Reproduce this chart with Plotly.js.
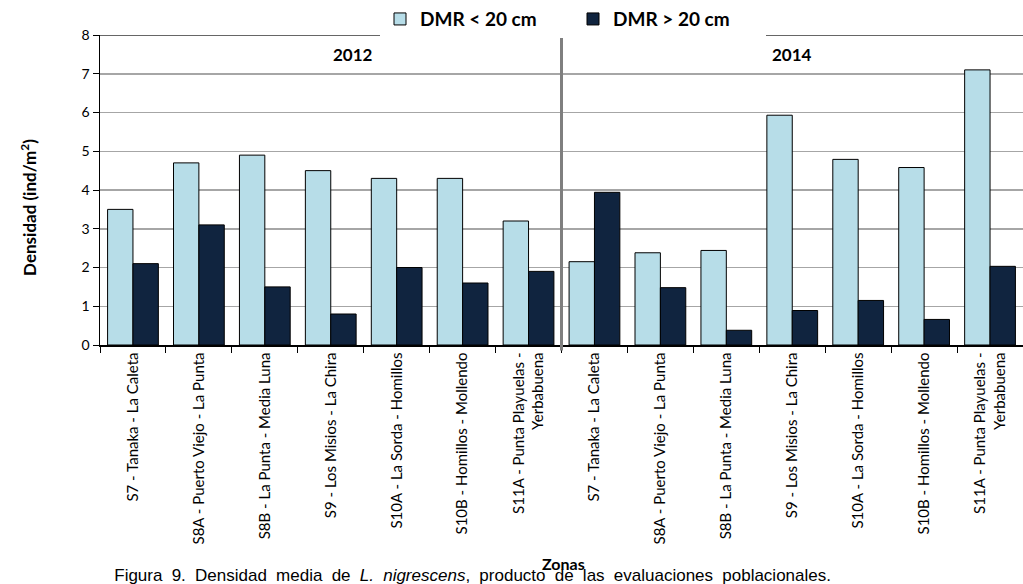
<!DOCTYPE html>
<html>
<head>
<meta charset="utf-8">
<script src="https://cdn.plot.ly/plotly-3.0.1.min.js"></script>
<style>
html,body{margin:0;padding:0;background:#fff;}
#chart{width:1023px;height:584px;}
g.annotation[data-index="4"] text{word-spacing:4.5px;}
</style>
</head>
<body>
<div id="chart"></div>
<script>
const zones = ["S7 - Tanaka - La Caleta","S8A - Puerto Viejo - La Punta","S8B - La Punta - Media Luna","S9 - Los Misios - La Chira","S10A - La Sorda - Homillos","S10B - Homillos - Mollendo","S11A - Punta Playuelas -<br>Yerbabuena"];
const years = ["2012","2014"];
const small2012 = [3.5, 4.7, 4.9, 4.5, 4.3, 4.3, 3.2];
const large2012 = [2.1, 3.1, 1.5, 0.8, 2.0, 1.6, 1.9];
const small2014 = [2.15, 2.38, 2.44, 5.93, 4.79, 4.58, 7.1];
const large2014 = [3.94, 1.48, 0.38, 0.89, 1.15, 0.66, 2.03];
const seriesNames = ["DMR < 20 cm","DMR > 20 cm"];

const cats = [], labels = [];
years.forEach(y => zones.forEach(z => { cats.push(y + "|" + z); labels.push(z); }));
const smallVals = small2012.concat(small2014);
const largeVals = large2012.concat(large2014);

const FONT = "Lato, 'Open Sans', sans-serif";
const L = 100, W = 923, T = 33, H = 312;
const px = x => (x - L) / W;
const py = y => (T + H - y) / H;

const traces = [
  {type:"bar", name:seriesNames[0], x:cats, y:smallVals,
   marker:{color:"#B7DDE8", line:{color:"#000", width:1}}},
  {type:"bar", name:seriesNames[1], x:cats, y:largeVals,
   marker:{color:"#10243F", line:{color:"#000", width:1}}}
];
const layout = {
  width:1023, height:584,
  margin:{l:L, r:0, t:T, b:239},
  paper_bgcolor:"#fff", plot_bgcolor:"#fff",
  barmode:"group", bargap:0.23, bargroupgap:0,
  showlegend:true,
  legend:{orientation:"h", x:px(380), xanchor:"left", y:py(17), yanchor:"middle",
    font:{family:FONT, size:19, color:"#000", weight:"bold"},
    entrywidth:148, entrywidthmode:"pixels", itemwidth:30, tracegroupgap:0},
  xaxis:{type:"category", tickmode:"array", tickvals:cats, ticktext:labels,
    tickangle:-90, tickson:"boundaries", ticks:"outside", ticklen:6, tickcolor:"#000",
    showline:true, linecolor:"#000", linewidth:1.5, showgrid:false,
    tickfont:{family:FONT, size:15, color:"#000"}},
  yaxis:{range:[0,8], dtick:1, tick0:0, ticks:"outside", ticklen:6, tickcolor:"#000",
    showline:true, linecolor:"#000", linewidth:1.5,
    showgrid:true, gridcolor:"#a6a6a6", gridwidth:1.5, zeroline:false,
    tickfont:{family:FONT, size:14, color:"#000"}},
  shapes:[
    {type:"line", xref:"paper", yref:"y", x0:0, x1:1, y0:8, y1:8, line:{color:"#333", width:1.5}},
    {type:"line", xref:"x", yref:"paper", x0:6.5, x1:6.5, y0:-0.018, y1:1, line:{color:"#7f7f7f", width:3}}
  ],
  annotations:[
    {text:"<b>2012</b>", xref:"paper", yref:"paper", x:px(331), y:py(53), yanchor:"middle", showarrow:false,
     font:{family:FONT, size:17, color:"#000"}},
    {text:"<b>2014</b>", xref:"paper", yref:"paper", x:px(814), y:py(53), yanchor:"middle", showarrow:false,
     font:{family:FONT, size:17, color:"#000"}},
    {text:"<b>Densidad (ind/m<sup>2</sup>)</b>", xref:"paper", yref:"paper", x:px(29), y:py(207),
     xanchor:"center", yanchor:"middle", textangle:-90, showarrow:false,
     font:{family:FONT, size:17, color:"#000"}},
    {text:"<b>Zonas</b>", xref:"paper", yref:"paper", x:px(563), y:py(565), yanchor:"middle", showarrow:false,
     font:{family:FONT, size:16, color:"#000"}},
    {text:"Figura 9. Densidad media de <i>L. nigrescens</i>, producto de las evaluaciones poblacionales.",
     xref:"paper", yref:"paper", x:px(472), y:py(577), showarrow:false, yanchor:"middle",
     font:{family:"'Liberation Sans', Arial, sans-serif", size:17, color:"#000"}}
  ]
};
Plotly.newPlot("chart", traces, layout, {displayModeBar:false, staticPlot:true});
</script>
</body>
</html>
